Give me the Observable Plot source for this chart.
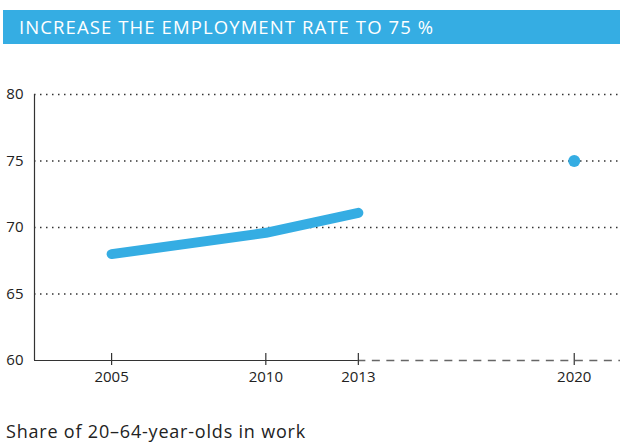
<!DOCTYPE html>
<html>
<head>
<meta charset="utf-8">
<script src="https://cdn.jsdelivr.net/npm/d3@7"></script>
<script src="https://cdn.jsdelivr.net/npm/@observablehq/plot@0.6"></script>
<style>
  body { margin: 0; background: #fff; font-family: "Open Sans", sans-serif; width: 620px; height: 444px; position: relative; overflow: hidden; }
  #title { position: absolute; left: 3px; top: 10px; width: 617px; height: 34px; background: #35ADE3; color: #fff; font-size: 18.5px; line-height: 34px; box-sizing: border-box; padding-left: 16px; white-space: nowrap; letter-spacing: 1.1px; }
  #chart { position: absolute; left: 0; top: 44px; }
  #caption { position: absolute; left: 6px; top: 421px; height: 20px; font-size: 18px; line-height: 20px; color: #222; white-space: nowrap; letter-spacing: 0.8px; }
</style>
</head>
<body>
<div id="title">INCREASE THE EMPLOYMENT RATE TO 75 %</div>
<div id="chart"></div>
<div id="caption">Share of 20–64-year-olds in work</div>
<script>
const years = [2005, 2010, 2013];
const rates = [68.0, 69.6, 71.1];
const targetYear = [2020];
const targetRate = [75];
const xTicks = [2005, 2010, 2013, 2020];
const yTicks = [60, 65, 70, 75, 80];
const gridValues = [65, 70, 75, 80];
const xDomain = [2002.5, 2021.5];
const yDomain = [60, 80];
const lastActual = 2013;

const blue = "#35ADE3";
const ink = "#333";

const series = years.map((y, i) => ({year: y, rate: rates[i]}));
const target = targetYear.map((y, i) => ({year: y, rate: targetRate[i]}));

const chart = Plot.plot({
  width: 620,
  height: 356,
  marginLeft: 34,
  marginRight: 0,
  marginTop: 50,
  marginBottom: 40,
  style: {fontFamily: "'Open Sans', sans-serif", fontSize: "15px", color: "#222", background: "transparent"},
  x: {domain: xDomain},
  y: {domain: yDomain},
  marks: [
    Plot.ruleY(gridValues, {y: d => d, stroke: ink, strokeWidth: 1.3, strokeDasharray: "1.5,4.5", strokeOpacity: 1}),
    Plot.ruleX([xDomain[0]], {x: d => d, y1: yDomain[0], y2: yDomain[1], stroke: ink, strokeWidth: 1.2}),
    Plot.ruleY([yDomain[0]], {y: d => d, x1: xDomain[0], x2: lastActual, stroke: ink, strokeWidth: 1.2}),
    Plot.ruleY([yDomain[0]], {y: d => d, x1: lastActual, x2: xDomain[1], stroke: "#666", strokeWidth: 1.3, strokeDasharray: "8,6.5", strokeDashoffset: -14}),
    Plot.ruleX(xTicks, {x: d => d, y1: yDomain[0], y2: yDomain[0], insetTop: -7, insetBottom: -5, stroke: ink, strokeWidth: 1.2}),
    Plot.axisX({ticks: xTicks, tickFormat: d => String(d), tickSize: 0, tickPadding: 11, label: null}),
    Plot.axisY({ticks: yTicks, tickSize: 0, tickPadding: 11, label: null}),
    Plot.line(series, {x: "year", y: "rate", stroke: blue, strokeWidth: 10, strokeLinecap: "round", strokeLinejoin: "round"}),
    Plot.dot(target, {x: "year", y: "rate", fill: blue, r: 6, stroke: null})
  ]
});
document.getElementById("chart").appendChild(chart);
</script>
</body>
</html>
